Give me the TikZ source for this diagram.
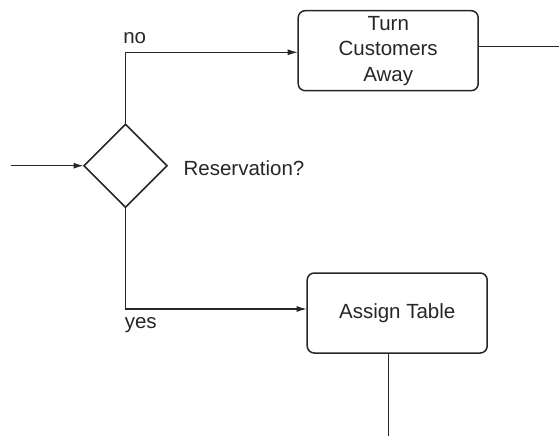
\documentclass[tikz,border=0pt]{standalone}
\usepackage{fontspec}
\setmainfont{Liberation Sans}
\usetikzlibrary{shapes.geometric,arrows.meta}
\definecolor{ink}{HTML}{262626}
\tikzset{
  flow/.style={draw=ink, line width=1.5pt},
  arr/.style={flow, -{Latex[length=10.5pt,width=6pt]}},
  procbox/.style={draw=ink, line width=1.5pt, rounded corners=7pt,
    minimum width=180pt, minimum height=80pt, inner sep=0pt, outer sep=0pt,
    align=center, text=ink, font=\fontsize{20.5}{25.5}\selectfont},
  decision/.style={draw=ink, line width=1.5pt, diamond, aspect=1,
    minimum width=83pt, minimum height=83pt, inner sep=0pt, outer sep=0pt},
  lbl/.style={inner sep=0pt, outer sep=0pt, anchor=base west, text=ink,
    font=\fontsize{20.5}{25.5}\selectfont}
}
\begin{document}
\begin{tikzpicture}[x=1pt, y=-1pt]
  \useasboundingbox (0,0) rectangle (559,436);

  % decision and process steps
  \node[decision] (res) at (125.5,165.7) {};
  \node[procbox] (away) at (388.2,50.7) {Turn\\Customers\\Away};
  \node[procbox] (assign) at (397.2,313) {Assign Table};

  % labels
  \node[lbl] (resl) at (183.6,175) {Reservation?};
  \node[lbl] (nol) at (123.3,43.3) {no};
  \node[lbl] (yesl) at (124.8,328.3) {yes};

  % free ends of the open connectors
  \coordinate (in) at (11,165.7);
  \coordinate (outR) at (559,46.7);
  \coordinate (outB) at (388.6,436);
  \coordinate (noBend) at (125.5,52.3);
  \coordinate (yesBend) at (125.5,309);

  % connectors
  \draw[arr] (in) -- (res.west);
  \draw[arr] (res.north) -- (noBend) -- (noBend -| away.west);
  \draw[arr] (res.south) -- (yesBend) -- (yesBend -| assign.west);
  \draw[flow] (outR -| away.east) -- (outR);
  \draw[flow] (outB |- assign.south) -- (outB);
\end{tikzpicture}
\end{document}
